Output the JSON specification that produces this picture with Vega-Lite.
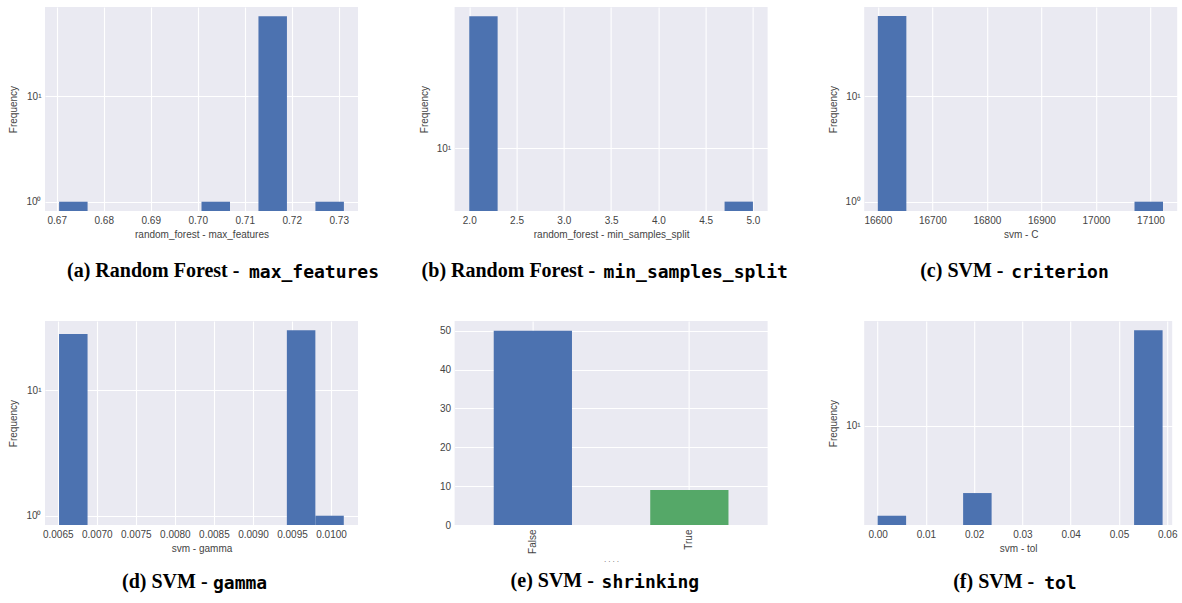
{
  "$schema": "https://vega.github.io/schema/vega-lite/v6.json",
  "background": "white",
  "autosize": {"type": "pad"},
  "padding": {"left": 8, "top": 7, "right": 0, "bottom": 0},
  "columns": 3,
  "bounds": "flush",
  "spacing": {"row": 110, "column": 96.6},
  "datasets": {
    "a": [
      {"start": 0.6705, "end": 0.67656, "count": 1},
      {"start": 0.7008, "end": 0.70686, "count": 1},
      {"start": 0.71292, "end": 0.71898, "count": 57},
      {"start": 0.72504, "end": 0.7311, "count": 1}
    ],
    "b": [
      {"start": 2.0, "end": 2.3, "count": 55},
      {"start": 4.7, "end": 5.0, "count": 5}
    ],
    "c": [
      {"start": 16600, "end": 16652.3, "count": 58},
      {"start": 17070.7, "end": 17123, "count": 1}
    ],
    "d": [
      {"start": 0.006517, "end": 0.006882, "count": 28},
      {"start": 0.009434, "end": 0.009799, "count": 30},
      {"start": 0.009799, "end": 0.010163, "count": 1}
    ],
    "e": [
      {"value": "False", "count": 50},
      {"value": "True", "count": 9}
    ],
    "f": [
      {"start": 0.0, "end": 0.005904, "count": 2},
      {"start": 0.017712, "end": 0.023616, "count": 3},
      {"start": 0.053136, "end": 0.05904, "count": 55}
    ]
  },
  "concat": [
    {
      "width": 313, "height": 204,
      "data": {"name": "a"},
      "mark": {"type": "bar", "color": "#4C72B0"},
      "title": {"text": "(a) Random Forest - ", "subtitle": "\u2800\u2800\u2800\u2800\u2800\u2800\u2800\u2800\u2800\u2800\u2800\u2800\u2800\u2800max_features", "dx": 22, "offset": 22},
      "encoding": {
        "x": {"field": "start", "type": "quantitative", "scale": {"domain": [0.6675, 0.7341], "nice": false, "zero": false},
              "axis": {"values": [0.67, 0.68, 0.69, 0.70, 0.71, 0.72, 0.73], "format": ".2f", "title": "random_forest - max_features"}},
        "x2": {"field": "end"},
        "y": {"field": "count", "type": "quantitative", "scale": {"type": "log", "domain": [0.817, 69.8], "nice": false, "clamp": true},
              "axis": {"values": [1, 10], "labelExpr": "datum.value == 1 ? '10⁰' : '10¹'", "title": "Frequency"}},
        "y2": {"datum": 0.01}
      }
    },
    {
      "width": 313, "height": 204,
      "data": {"name": "b"},
      "mark": {"type": "bar", "color": "#4C72B0"},
      "title": {"text": "(b) Random Forest - ", "subtitle": "\u2800\u2800\u2800\u2800\u2800\u2800\u2800\u2800\u2800\u2800\u2800\u2800\u2800\u2800min_samples_split", "dx": -33, "offset": 22},
      "encoding": {
        "x": {"field": "start", "type": "quantitative", "scale": {"domain": [1.845, 5.155], "nice": false, "zero": false},
              "axis": {"values": [2.0, 2.5, 3.0, 3.5, 4.0, 4.5, 5.0], "format": ".1f", "title": "random_forest - min_samples_split"}},
        "x2": {"field": "end"},
        "y": {"field": "count", "type": "quantitative", "scale": {"type": "log", "domain": [4.43, 62], "nice": false, "clamp": true},
              "axis": {"values": [10], "labelExpr": "'10¹'", "title": "Frequency"}},
        "y2": {"datum": 0.01}
      }
    },
    {
      "width": 313, "height": 204,
      "data": {"name": "c"},
      "mark": {"type": "bar", "color": "#4C72B0"},
      "title": {"text": "(c) SVM - ", "subtitle": "\u2800\u2800\u2800\u2800\u2800\u2800\u2800criterion", "dx": 56, "offset": 22},
      "encoding": {
        "x": {"field": "start", "type": "quantitative", "scale": {"domain": [16575, 17149], "nice": false, "zero": false},
              "axis": {"values": [16600, 16700, 16800, 16900, 17000, 17100], "format": "d", "title": "svm - C"}},
        "x2": {"field": "end"},
        "y": {"field": "count", "type": "quantitative", "scale": {"type": "log", "domain": [0.816, 70.6], "nice": false, "clamp": true},
              "axis": {"values": [1, 10], "labelExpr": "datum.value == 1 ? '10⁰' : '10¹'", "title": "Frequency"}},
        "y2": {"datum": 0.01}
      }
    },
    {
      "width": 313, "height": 204,
      "data": {"name": "d"},
      "mark": {"type": "bar", "color": "#4C72B0"},
      "title": {"text": "(d) SVM - ", "subtitle": "\u2800\u2800\u2800\u2800\u2800\u2800\u2800gamma", "dx": 77, "offset": 19},
      "encoding": {
        "x": {"field": "start", "type": "quantitative", "scale": {"domain": [0.006337, 0.010345], "nice": false, "zero": false},
              "axis": {"values": [0.0065, 0.007, 0.0075, 0.008, 0.0085, 0.009, 0.0095, 0.01], "format": ".4f", "title": "svm - gamma"}},
        "x2": {"field": "end"},
        "y": {"field": "count", "type": "quantitative", "scale": {"type": "log", "domain": [0.8435, 35.57], "nice": false, "clamp": true},
              "axis": {"values": [1, 10], "labelExpr": "datum.value == 1 ? '10⁰' : '10¹'", "title": "Frequency"}},
        "y2": {"datum": 0.01}
      }
    },
    {
      "width": 313, "height": 204,
      "data": {"name": "e"},
      "mark": {"type": "bar"},
      "title": {"text": "(e) SVM - ", "subtitle": "\u2800\u2800\u2800\u2800\u2800\u2800\u2800shrinking", "dx": 56, "offset": 7},
      "encoding": {
        "x": {"field": "value", "type": "nominal", "sort": null, "scale": {"paddingInner": 0.5, "paddingOuter": 0.25},
              "axis": {"labelAngle": -90, "bandPosition": 0.5, "title": "· · · ·", "titleFontSize": 7}},
        "y": {"field": "count", "type": "quantitative", "scale": {"domain": [0, 52.5], "nice": false},
              "axis": {"values": [0, 10, 20, 30, 40, 50], "title": null}},
        "color": {"field": "value", "type": "nominal", "scale": {"range": ["#4C72B0", "#55A868"]}, "legend": null}
      }
    },
    {
      "width": 308, "height": 204,
      "data": {"name": "f"},
      "mark": {"type": "bar", "color": "#4C72B0"},
      "title": {"text": "(f) SVM - ", "subtitle": "\u2800\u2800\u2800\u2800\u2800\u2800\u2800tol", "dx": 89, "offset": 19},
      "encoding": {
        "x": {"field": "start", "type": "quantitative", "scale": {"domain": [-0.00278, 0.06103], "nice": false, "zero": false},
              "axis": {"values": [0, 0.01, 0.02, 0.03, 0.04, 0.05, 0.06], "format": ".2f", "title": "svm - tol"}},
        "x2": {"field": "end"},
        "y": {"field": "count", "type": "quantitative", "scale": {"type": "log", "domain": [1.695, 64.9], "nice": false, "clamp": true},
              "axis": {"values": [10], "labelExpr": "'10¹'", "title": "Frequency"}},
        "y2": {"datum": 0.01}
      }
    }
  ],
  "config": {
    "view": {"fill": "#EAEAF2", "stroke": null},
    "axis": {
      "domain": false, "ticks": false,
      "grid": true, "gridColor": "#ffffff", "gridWidth": 1.1,
      "labelFont": "Liberation Sans", "labelFontSize": 10, "labelColor": "#444444", "labelPadding": 4,
      "titleFont": "Liberation Sans", "titleFontSize": 10, "titleFontWeight": "normal", "titleColor": "#444444", "titlePadding": 4
    },
    "axisY": {"titlePadding": 7},
    "title": {
      "orient": "bottom", "anchor": "start", "frame": "group",
      "font": "Liberation Serif", "fontSize": 20, "fontWeight": "bold", "color": "#000000",
      "subtitleFont": "DejaVu Sans Mono", "subtitleFontSize": 18, "subtitleFontWeight": "bold", "subtitleColor": "#000000",
      "subtitlePadding": -17.5
    }
  }
}
